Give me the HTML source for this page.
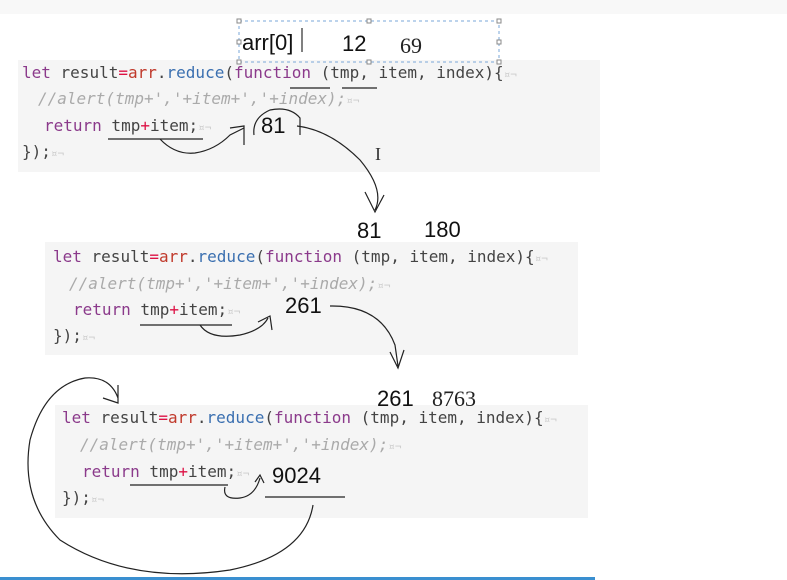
<!DOCTYPE html>
<html><head><meta charset="utf-8"><style>
body{margin:0;background:#fff;width:787px;height:580px;overflow:hidden}
svg{display:block}
.c{font-family:"DejaVu Sans Mono","Liberation Mono",monospace;font-size:16px;fill:#444}
.k{fill:#8b3a8b}.o{fill:#d14}.a{fill:#c0392b}.f{fill:#3a6fb0}
.cm{fill:#aaa;font-style:italic}.g{fill:#ccc;font-size:11px}
.n{font-family:"Liberation Sans",sans-serif;font-size:22px;fill:#111}
.s{font-family:"Liberation Serif",serif;font-size:22px;fill:#222}
</style></head><body>
<svg width="787" height="580" viewBox="0 0 787 580">
<rect x="0" y="0" width="787" height="14" fill="#f8f8f8"/>
<rect x="18" y="60" width="582" height="112" fill="#f5f5f5"/>
<rect x="45" y="242" width="533" height="113" fill="#f5f5f5"/>
<rect x="55" y="405" width="533" height="113" fill="#f5f5f5"/>
<rect x="0" y="577" width="595" height="3" fill="#3a8fd0"/>
<rect x="239" y="21" width="260" height="41" fill="none" stroke="#7aa7d8" stroke-dasharray="3,3"/>
<g fill="#fff" stroke="#888"><rect x="237" y="19" width="4" height="4"/><rect x="367" y="19" width="4" height="4"/><rect x="497" y="19" width="4" height="4"/><rect x="237" y="60" width="4" height="4"/><rect x="367" y="60" width="4" height="4"/><rect x="497" y="60" width="4" height="4"/><rect x="497" y="40" width="4" height="4"/><rect x="237" y="40" width="4" height="4"/></g>
<text x="242" y="50" class="n">arr[0]</text><line x1="302" y1="28" x2="302" y2="52" stroke="#000"/>
<text x="342" y="51" class="n">12</text><text x="400" y="53" class="s">69</text>

<g class="c">
<text x="22" y="78"><tspan class="k">let</tspan> result<tspan class="o">=</tspan><tspan class="a">arr</tspan>.<tspan class="f">reduce</tspan>(<tspan class="k">function</tspan> (tmp, item, index){<tspan class="g">¤¬</tspan></text>
<text x="38" y="104"><tspan class="cm">//alert(tmp+','+item+','+index);</tspan><tspan class="g">¤¬</tspan></text>
<text x="44" y="131"><tspan class="k">return</tspan> tmp<tspan class="o">+</tspan>item;<tspan class="g">¤¬</tspan></text>
<text x="22" y="157">});<tspan class="g">¤¬</tspan></text>

<text x="53" y="262"><tspan class="k">let</tspan> result<tspan class="o">=</tspan><tspan class="a">arr</tspan>.<tspan class="f">reduce</tspan>(<tspan class="k">function</tspan> (tmp, item, index){<tspan class="g">¤¬</tspan></text>
<text x="69" y="289"><tspan class="cm">//alert(tmp+','+item+','+index);</tspan><tspan class="g">¤¬</tspan></text>
<text x="73" y="315"><tspan class="k">return</tspan> tmp<tspan class="o">+</tspan>item;<tspan class="g">¤¬</tspan></text>
<text x="53" y="341">});<tspan class="g">¤¬</tspan></text>

<text x="62" y="423"><tspan class="k">let</tspan> result<tspan class="o">=</tspan><tspan class="a">arr</tspan>.<tspan class="f">reduce</tspan>(<tspan class="k">function</tspan> (tmp, item, index){<tspan class="g">¤¬</tspan></text>
<text x="80" y="450"><tspan class="cm">//alert(tmp+','+item+','+index);</tspan><tspan class="g">¤¬</tspan></text>
<text x="82" y="477"><tspan class="k">return</tspan> tmp<tspan class="o">+</tspan>item;<tspan class="g">¤¬</tspan></text>
<text x="62" y="503">});<tspan class="g">¤¬</tspan></text>
</g>

<text x="261" y="133" class="n">81</text>
<text x="357" y="238" class="n">81</text><text x="424" y="237" class="n">180</text>
<text x="285" y="313" class="n">261</text>
<text x="377" y="406" class="n">261</text><text x="432" y="406" class="s">8763</text>
<text x="272" y="483" class="n">9024</text>

<g fill="none" stroke="#222" stroke-width="1.2">
<line x1="290" y1="88" x2="330" y2="88"/><line x1="342" y1="88" x2="377" y2="88"/>
<line x1="108" y1="139" x2="203" y2="139"/>
<path d="M160 139 Q175 155 195 153 Q215 150 230 135 L244 128"/>
<path d="M230 128 L244 126 L244 145"/>
<path d="M254 135 Q252 118 270 110 Q290 106 300 118 L300 135"/>
<path d="M297 126 Q330 130 360 160 Q385 190 375 210 M365 192 L375 212 L384 195"/>
<line x1="140" y1="325" x2="232" y2="325"/>
<path d="M200 325 Q210 340 240 335 Q262 330 268 318 M258 322 L270 316 L272 330"/>
<path d="M330 306 Q380 305 395 345 L398 366 M390 352 L398 368 L404 350"/>
<line x1="130" y1="485" x2="228" y2="485"/>
<path d="M225 487 Q222 500 240 498 Q255 496 260 478 M255 482 L260 475 L264 483"/>
<line x1="265" y1="497" x2="345" y2="497"/>
<path d="M313 505 Q305 555 230 570 Q130 585 60 540 Q20 500 30 440 Q45 385 85 378 Q110 376 118 398 M103 398 L118 403 L118 385"/>
</g>
<text x="375" y="160" font-family="Liberation Serif" font-size="18" fill="#333">I</text>
</svg>
</body></html>
